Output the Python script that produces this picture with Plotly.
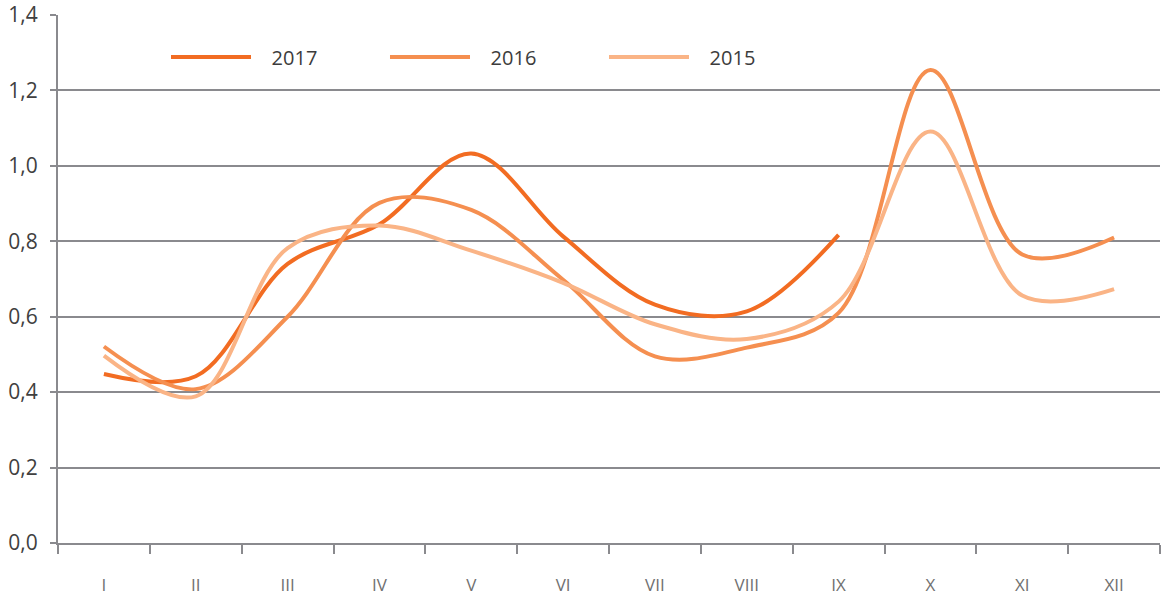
import plotly.graph_objects as go

months = ["I", "II", "III", "IV", "V", "VI", "VII", "VIII", "IX", "X", "XI", "XII"]
y2017 = [0.448, 0.442, 0.74, 0.845, 1.033, 0.813, 0.632, 0.614, 0.817, None, None, None]
y2016 = [0.521, 0.408, 0.60, 0.902, 0.883, 0.698, 0.495, 0.518, 0.61, 1.254, 0.765, 0.81]
y2015 = [0.497, 0.389, 0.782, 0.842, 0.775, 0.69, 0.58, 0.541, 0.64, 1.091, 0.656, 0.673]
y_ticks = [0.0, 0.2, 0.4, 0.6, 0.8, 1.0, 1.2, 1.4]

series = [("2017", y2017, "#F26C22"), ("2016", y2016, "#F58F50"), ("2015", y2015, "#FAB486")]

fig = go.Figure()
for name, vals, col in series:
    fig.add_trace(go.Scatter(
        x=months, y=vals, name="\u00a0\u00a0\u00a0" + name, mode="lines",
        line=dict(color=col, width=4, shape="spline", smoothing=1.0),
        connectgaps=False,
    ))

grid = "#8a8a8e"
fig.update_layout(
    width=1163, height=599,
    margin=dict(l=58, r=3, t=15, b=56, autoexpand=False),
    paper_bgcolor="white", plot_bgcolor="white",
    separators=", ",
    font=dict(family="Open Sans, sans-serif", color="#3c3c3c", size=18),
    showlegend=True,
    legend=dict(
        orientation="h", x=0.098, y=0.9205, xanchor="left", yanchor="middle",
        font=dict(size=20, color="#3c3c3c"),
        entrywidth=124, entrywidthmode="pixels", itemwidth=80,
        bgcolor="rgba(0,0,0,0)",
    ),
    xaxis=dict(
        type="category", tickson="boundaries", ticks="outside", ticklen=9,
        tickwidth=2, tickcolor=grid, showline=True, linecolor=grid, linewidth=2,
        showgrid=False, tickfont=dict(size=17, color="#707070"),
        ticklabelstandoff=26, range=[-0.5, 11.5], automargin=False,
    ),
    yaxis=dict(
        range=[0, 1.4], tickvals=y_ticks, tickformat=".1f", ticks="outside",
        ticklen=6, tickwidth=2, tickcolor=grid, showline=True, linecolor=grid,
        linewidth=2, showgrid=True, gridcolor=grid, gridwidth=2, zeroline=False,
        tickfont=dict(size=21, color="#404040"), ticklabelstandoff=8,
        automargin=False,
    ),
)

fig.write_html(
    "out.html",
    config={"displayModeBar": False},
    post_script="document.body.style.margin='0';document.body.style.padding='0';"
                "document.body.style.overflow='hidden';",
)
